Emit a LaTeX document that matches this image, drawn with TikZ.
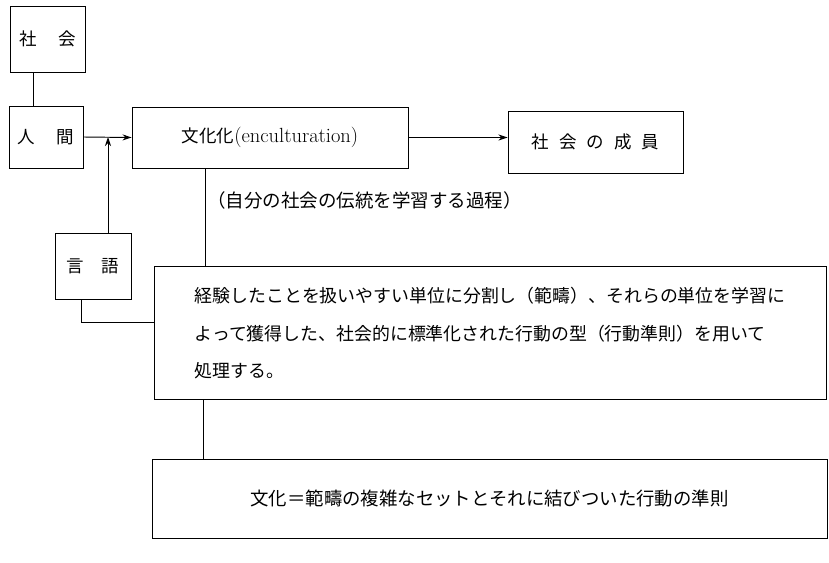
\documentclass[tikz,border=0pt]{standalone}
\usepackage{fontspec}
\newfontfamily\cjk{Noto Sans CJK JP}
\usetikzlibrary{arrows.meta}
\begin{document}
\begin{tikzpicture}[x=1pt,y=-1pt,line width=0.95pt,
  box/.style={draw,rectangle,inner sep=0pt,font=\cjk\fontsize{17.5}{21}\selectfont},
  lbl/.style={inner sep=0pt,font=\cjk\fontsize{18.5}{21}\selectfont},
  arr/.style={-{Stealth[length=9pt,width=6pt]}}]
\useasboundingbox (0,0) rectangle (829,562);
% boxes
\node[box,minimum width=75pt,minimum height=66pt] (shakai) at (47.5,39) {社\hspace{22pt}会};
\node[box,minimum width=74pt,minimum height=62pt] (ningen) at (46,137) {人\hspace{22pt}間};
\node[box,minimum width=276pt,minimum height=61pt] (bunka) at (270,137.5) {文化化\normalfont\fontsize{20.5}{21}\selectfont(enculturation)};
\node[box,minimum width=175pt,minimum height=62pt] (seiin) at (595.5,142) {社\hspace{10pt}会\hspace{10pt}の\hspace{10pt}成\hspace{10pt}員};
\node[box,minimum width=76pt,minimum height=66pt] (gengo) at (93,266) {言\hspace{18pt}語};
\node[box,minimum width=672pt,minimum height=133pt,align=left,text depth=0pt,font=\cjk\fontsize{17.9}{37.5}\selectfont] (big) at (490,332.5)
  {経験したことを扱いやすい単位に分割し（範疇）、それらの単位を学習に\\よって獲得した、社会的に標準化された行動の型（行動準則）を用いて\\処理する。};
\node[box,minimum width=675pt,minimum height=79pt,font=\cjk\fontsize{18.4}{21}\selectfont] (bot) at (489.5,498.5) {文化＝範疇の複雑なセットとそれに結びついた行動の準則};
\node[lbl,anchor=west] (proc) at (207,200) {（自分の社会の伝統を学習する過程）};
% connectors
\draw ([xshift=-14.5pt]shakai.south) coordinate (a) -- (a |- ningen.north);
\draw[arr] (ningen.east) -- (bunka.west);
\draw[arr] ([xshift=15pt]gengo.north) coordinate (g) -- (g |- ningen.east);
\draw[arr] (bunka.east) -- (bunka.east -| seiin.west);
\draw ([xshift=-65pt]bunka.south) coordinate (b) -- (b |- big.north);
\draw ([xshift=-12pt]gengo.south) |- ([yshift=10.5pt]big.west);
\draw ([xshift=-287pt]big.south) coordinate (c) -- (c |- bot.north);
\end{tikzpicture}
\end{document}
